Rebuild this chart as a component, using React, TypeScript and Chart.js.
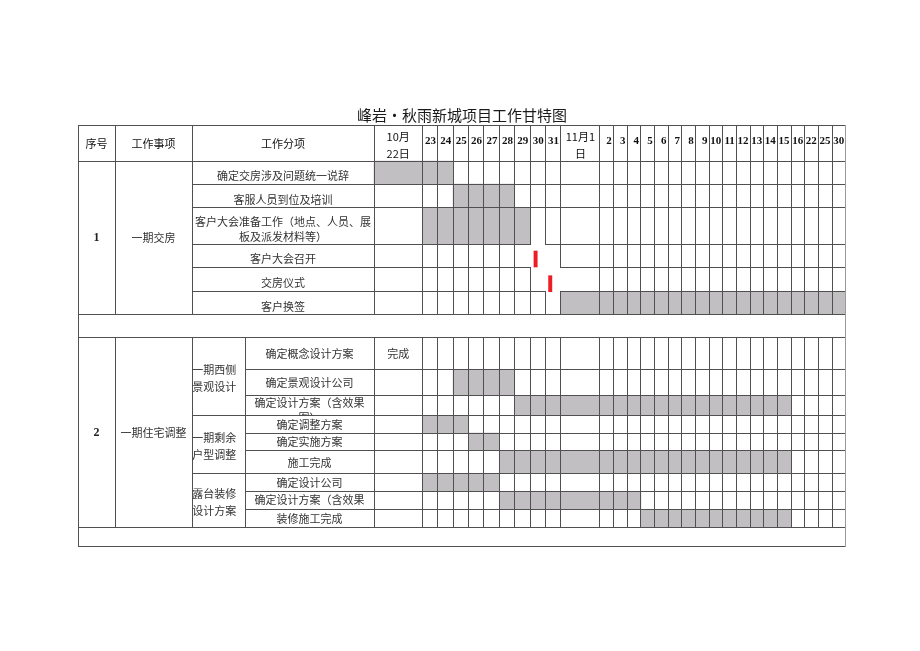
import React, { useEffect, useRef } from 'react';
import { Chart, registerables } from 'chart.js';

Chart.register(...registerables);

// ---------------- data ----------------
const chartTitle = '峰岩•秋雨新城项目工作甘特图';
const headerLabels = ['序号', '工作事项', '工作分项'];
const dayLabels = [
  '10月\n22日', '23', '24', '25', '26', '27', '28', '29', '30', '31',
  '11月1\n日', '2', '3', '4', '5', '6', '7', '8', '9', '10', '11', '12', '13', '14', '15', '16', '22', '25', '30',
];

const phase1Number = '1';
const phase1Name = '一期交房';
const phase1Tasks = [
  '确定交房涉及问题统一说辞',
  '客服人员到位及培训',
  '客户大会准备工作（地点、人员、展板及派发材料等）',
  '客户大会召开',
  '交房仪式',
  '客户换签',
];
// day-column index (inclusive) of the shaded period, null = none
const phase1Start = [0, 3, 1, null, null, 10];
const phase1End = [2, 6, 7, null, null, 28];
// milestone position in day columns (column index + fraction of the day)
const phase1Milestone = [null, null, null, 8.25, 9.2, null];

const phase2Number = '2';
const phase2Name = '一期住宅调整';
const phase2Groups = ['一期西侧景观设计', '一期剩余户型调整', '露台装修设计方案'];
const phase2GroupSize = [3, 3, 3];
const phase2Tasks = [
  '确定概念设计方案',
  '确定景观设计公司',
  '确定设计方案（含效果图）',
  '确定调整方案',
  '确定实施方案',
  '施工完成',
  '确定设计公司',
  '确定设计方案（含效果图）',
  '装修施工完成',
];
const phase2Notes = ['完成', '', '', '', '', '', '', '', ''];
const phase2Start = [null, 3, 7, 1, 4, 6, 1, 6, 14];
const phase2End = [null, 6, 24, 3, 5, 24, 5, 13, 24];

// ---------------- layout (sizes, styles) ----------------
const TABLE_LEFT = 78;
const TABLE_TOP = 125;
const CANVAS_W = 920;
const CANVAS_H = 651;
const leftColW = [37, 77, 182];
const groupColW = 53;
const dayColW = [48.3]
  .concat(new Array(9).fill(15.4))
  .concat([39])
  .concat(new Array(18).fill(13.67));
const headerH = 36;
const phase1RowH = [23, 23.7, 36.6, 22.7, 24.7, 22.6];
const gapRowH = [23.4, 18.7];
const phase2RowH = [31.6, 26, 20, 17.7, 17.3, 23.4, 18, 17.6, 18];
// merged (line-less) stretches around the milestones in phase 1
const vGaps = [[8, 3], [9, 3], [9, 4], [10, 4]]; // [day edge, phase1 row]
const hGaps = [[2, 8], [3, 8], [3, 9], [4, 9]]; // [phase1 row (line below), day col]

const SHADE = '#c1bfc1';
const MILESTONE = '#ee1c24';
const GRID = '#505050';
const TEXT = '#333333';
const CJK = '"Noto Sans CJK SC"';
const SERIF = '"Liberation Serif"';

// derived geometry
const colX1 = leftColW[0];
const colX2 = leftColW[0] + leftColW[1];
const subX = colX2 + groupColW;
const dayEdges: number[] = [colX2 + leftColW[2]];
dayColW.forEach((w, i) => dayEdges.push(dayEdges[i] + w));
const totalW = dayEdges[dayEdges.length - 1];
const rowHeights = [headerH, ...phase1RowH, gapRowH[0], ...phase2RowH, gapRowH[1]];
const rowEdges: number[] = [0];
rowHeights.forEach((h, i) => rowEdges.push(rowEdges[i] + h));
const totalH = rowEdges[rowEdges.length - 1];
const P1 = 1; // first phase1 row edge index
const P2 = P1 + phase1RowH.length + 1; // first phase2 row edge index
const P2END = P2 + phase2RowH.length;

const dayPos = (p: number) => {
  const c = Math.floor(p);
  return dayEdges[c] + (p - c) * dayColW[c];
};

function wrap(ctx: CanvasRenderingContext2D, s: string, maxW: number): string[] {
  const lines: string[] = [];
  let cur = '';
  for (const ch of Array.from(s)) {
    if (cur && ctx.measureText(cur + ch).width > maxW) {
      lines.push(cur);
      cur = ch;
    } else cur += ch;
  }
  if (cur) lines.push(cur);
  return lines;
}

const tablePlugin = {
  id: 'ganttTable',
  afterDatasetsDraw(chart: any) {
    const ctx: CanvasRenderingContext2D = chart.ctx;
    const xs = chart.scales.x;
    const ys = chart.scales.y;
    const X = (u: number) => xs.getPixelForValue(u);
    const Y = (u: number) => ys.getPixelForValue(u);
    const crisp = (p: number) => Math.floor(p) + 0.5;

    ctx.save();
    ctx.lineWidth = 1;
    ctx.strokeStyle = GRID;
    const hl = (yu: number, x0: number, x1: number) => {
      const y = crisp(Y(yu));
      ctx.beginPath();
      ctx.moveTo(Math.floor(X(x0)), y);
      ctx.lineTo(Math.floor(X(x1)) + 1, y);
      ctx.stroke();
    };
    const vl = (xu: number, y0: number, y1: number) => {
      const x = crisp(X(xu));
      ctx.beginPath();
      ctx.moveTo(x, Math.floor(Y(y0)));
      ctx.lineTo(x, Math.floor(Y(y1)) + 1);
      ctx.stroke();
    };
    const E = rowEdges;
    // full-width horizontal lines
    [0, 1, P2 - 1, P2, P2END, P2END + 1].forEach((e) => hl(E[e], 0, totalW));
    // outer verticals
    vl(0, E[0], E[E.length - 1]);
    // header verticals
    [colX1, colX2, ...dayEdges.slice(0, -1)].forEach((x) => vl(x, E[0], E[1]));
    // phase 1 verticals
    [colX1, colX2, dayEdges[0]].forEach((x) => vl(x, E[P1], E[P2 - 1]));
    for (let k = 1; k < dayEdges.length - 1; k++) {
      for (let r = 0; r < phase1RowH.length; r++) {
        if (vGaps.some(([c, rr]) => c === k && rr === r)) continue;
        vl(dayEdges[k], E[P1 + r], E[P1 + r + 1]);
      }
    }
    // phase 1 horizontals
    for (let r = 0; r < phase1RowH.length - 1; r++) {
      const yu = E[P1 + r + 1];
      hl(yu, colX2, dayEdges[0]);
      for (let c = 0; c < dayColW.length; c++) {
        if (hGaps.some(([rr, cc]) => rr === r && cc === c)) continue;
        hl(yu, dayEdges[c], dayEdges[c + 1]);
      }
    }
    // phase 2 verticals
    [colX1, colX2, subX, ...dayEdges.slice(0, -1)].forEach((x) => vl(x, E[P2], E[P2END]));
    // phase 2 horizontals
    let acc = 0;
    const groupEnds = phase2GroupSize.map((n) => (acc += n));
    for (let r = 0; r < phase2RowH.length - 1; r++) {
      const isGroupEnd = groupEnds.includes(r + 1);
      hl(E[P2 + r + 1], isGroupEnd ? colX2 : subX, totalW);
    }
    // right border (lighter)
    ctx.strokeStyle = '#9a9a9a';
    vl(totalW, E[0], E[E.length - 1]);

    // ---------- text ----------
    ctx.textBaseline = 'middle';
    const text = (s: string, xu: number, yp: number, font: string, color: string, align: CanvasTextAlign = 'center') => {
      ctx.font = font;
      ctx.fillStyle = color;
      ctx.textAlign = align;
      ctx.fillText(s, X(xu), yp);
    };
    const f11 = `11px ${CJK}`;
    // header
    const headerMid = Y(E[0] + headerH / 2) + 0.5;
    text(headerLabels[0], colX1 / 2, headerMid, f11, '#111');
    text(headerLabels[1], (colX1 + colX2) / 2, headerMid, f11, '#111');
    text(headerLabels[2], (colX2 + dayEdges[0]) / 2, headerMid, f11, '#111');
    dayLabels.forEach((lab, i) => {
      const parts = lab.split('\n');
      if (parts.length > 1) {
        const cx = (dayEdges[i] + dayEdges[i + 1]) / 2;
        text(parts[0], cx, headerMid - 7, f11, '#111');
        text(parts[1], cx, headerMid + 10.5, f11, '#111');
      } else {
        ctx.font = `bold 11px ${SERIF}`;
        text(lab, dayEdges[i + 1] - 1.8, headerMid - 2, `bold 11px ${SERIF}`, '#111', 'right');
      }
    });

    // phase 1
    const p1Mid = Y((E[P1] + E[P2 - 1]) / 2);
    text(phase1Number, colX1 / 2, p1Mid, `bold 12px ${SERIF}`, '#222');
    text(phase1Name, (colX1 + colX2) / 2, p1Mid, f11, TEXT);
    ctx.font = f11;
    phase1Tasks.forEach((t, r) => {
      ctx.font = f11;
      const lines = wrap(ctx, t, leftColW[2] - 4);
      const mid = Y(E[P1 + r] + phase1RowH[r] / 2) + 3.5;
      const lh = 15.4;
      lines.forEach((ln, i) => {
        text(ln, (colX2 + dayEdges[0]) / 2, mid + (i - (lines.length - 1) / 2) * lh, f11, TEXT);
      });
    });

    // phase 2
    const p2Mid = Y((E[P2] + E[P2END]) / 2);
    text(phase2Number, colX1 / 2, p2Mid, `bold 12px ${SERIF}`, '#222');
    text(phase2Name, (colX1 + colX2) / 2, p2Mid, f11, TEXT);
    let gStart = 0;
    phase2Groups.forEach((g, gi) => {
      ctx.font = f11;
      const lines = wrap(ctx, g, groupColW - 3);
      const top = E[P2 + gStart];
      const bot = E[P2 + gStart + phase2GroupSize[gi]];
      const mid = Y((top + bot) / 2) + 2;
      lines.forEach((ln, i) => {
        text(ln, colX2 + 0.2, mid + (i - (lines.length - 1) / 2) * 16.6, f11, TEXT, 'left');
      });
      gStart += phase2GroupSize[gi];
    });
    phase2Tasks.forEach((t, r) => {
      ctx.font = f11;
      const lines = wrap(ctx, t, 118);
      const top = E[P2 + r];
      const h = phase2RowH[r];
      const lh = 15;
      ctx.save();
      ctx.beginPath();
      ctx.rect(X(subX), Y(top), X(dayEdges[0]) - X(subX), Y(top + h) - Y(top));
      ctx.clip();
      const cx = (subX + dayEdges[0]) / 2;
      if (lines.length * lh > h) {
        lines.forEach((ln, i) => text(ln, cx, Y(top) + 8 + i * lh, f11, TEXT));
      } else {
        const mid = Y(top + h / 2) + 0.5;
        lines.forEach((ln, i) => text(ln, cx, mid + (i - (lines.length - 1) / 2) * lh, f11, TEXT));
      }
      ctx.restore();
      if (phase2Notes[r]) {
        text(phase2Notes[r], (dayEdges[0] + dayEdges[1]) / 2, Y(top + h / 2), f11, TEXT);
      }
    });
    ctx.restore();
  },
};

export default function App() {
  const ref = useRef<HTMLCanvasElement>(null);

  useEffect(() => {
    const canvas = ref.current;
    if (!canvas) return;
    const datasets: any[] = [];
    const addBar = (s: number | null, e: number | null, top: number, h: number) => {
      if (s === null || e === null) return;
      datasets.push({
        data: [{ x: [dayEdges[s], dayEdges[e + 1]], y: top + h / 2 }],
        backgroundColor: SHADE,
        borderWidth: 0,
        barThickness: h,
        grouped: false,
      });
    };
    phase1Tasks.forEach((_, r) => addBar(phase1Start[r], phase1End[r], rowEdges[P1 + r], phase1RowH[r]));
    phase2Tasks.forEach((_, r) => addBar(phase2Start[r], phase2End[r], rowEdges[P2 + r], phase2RowH[r]));
    const msData: any[] = [];
    phase1Milestone.forEach((m, r) => {
      if (m === null) return;
      const x0 = dayPos(m);
      msData.push({ x: [x0, x0 + 3.3], y: rowEdges[P1 + r + 1] - 8 });
    });
    datasets.push({
      data: msData,
      backgroundColor: MILESTONE,
      borderWidth: 0,
      barThickness: 16,
      grouped: false,
    });

    const chart = new Chart(canvas, {
      type: 'bar',
      data: { datasets },
      options: {
        animation: false,
        responsive: false,
        devicePixelRatio: 1,
        indexAxis: 'y',
        layout: {
          padding: {
            left: TABLE_LEFT,
            right: CANVAS_W - TABLE_LEFT - totalW,
            top: TABLE_TOP - 19,
            bottom: CANVAS_H - TABLE_TOP - totalH,
          },
        },
        scales: {
          x: { type: 'linear', min: 0, max: totalW, display: false, offset: false },
          y: { type: 'linear', min: 0, max: totalH, reverse: true, display: false, offset: false },
        },
        plugins: {
          legend: { display: false },
          tooltip: { enabled: false },
          title: {
            display: true,
            text: chartTitle,
            color: '#1a1a1a',
            font: { family: 'Noto Sans CJK SC', size: 15, weight: 'normal', lineHeight: 1.2 },
            padding: { top: 0, bottom: 1 },
          },
        },
      } as any,
      plugins: [tablePlugin],
    });
    return () => chart.destroy();
  }, []);

  return (
    <div style={{ position: 'absolute', left: 0, top: 0, width: CANVAS_W, height: CANVAS_H, background: '#fff' }}>
      <canvas ref={ref} width={CANVAS_W} height={CANVAS_H} style={{ display: 'block' }} />
    </div>
  );
}
